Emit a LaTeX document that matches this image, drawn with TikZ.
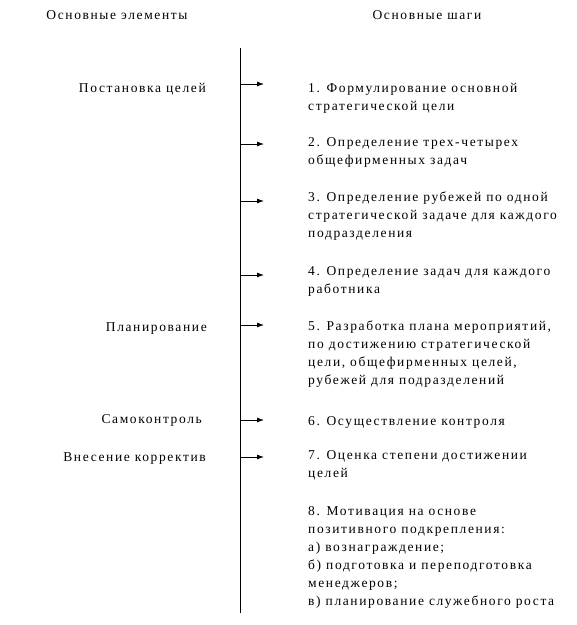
\documentclass[tikz,border=0pt]{standalone}
\usepackage{fontspec}
\setmainfont[LetterSpace=12]{Liberation Serif}
\usetikzlibrary{arrows.meta}

\begin{document}
\begin{tikzpicture}[x=1pt, y=-1pt, every node/.style={font=\fontsize{13.5}{18}\selectfont}]
  \tikzset{
    head/.style={anchor=base, inner sep=0pt},
    element/.style={anchor=base east, inner sep=0pt},
    stage/.style={anchor=north west, align=left, inner sep=0pt, execute at begin node=\strut},
    tick/.style={-{Latex[length=7pt,width=5pt]}, line width=0.8pt}
  }
  \useasboundingbox (0,0) rectangle (577,625);

  % column heads
  \node[head] (hElem) at (117,19) {Основные элементы};
  \node[head] (hStep) at (427,19) {Основные шаги};

  % axis
  \coordinate (axTop) at (240.5,48);
  \coordinate (axBot) at (240.5,613);
  \draw[line width=0.9pt] (axTop) -- (axBot);

  % elements on the left
  \node[element] (eGoal)  at (206,92)  {Постановка целей};
  \node[element] (ePlan)  at (207,331) {Планирование};
  \node[element] (eCtrl)  at (202,423) {Самоконтроль};
  \node[element] (eCorr)  at (206,461) {Внесение корректив};

  % steps on the right (top = first baseline - 12.6)
  \node[stage] (s1) at (308,83)  {1. Формулирование основной\\стратегической цели};
  \node[stage] (s2) at (308,137) {2. Определение трех-четырех\\общефирменных задач};
  \node[stage] (s3) at (308,192) {3. Определение рубежей по одной\\стратегической задаче для каждого\\подразделения};
  \node[stage] (s4) at (308,266) {4. Определение задач для каждого\\работника};
  \node[stage] (s5) at (308,321) {5. Разработка плана мероприятий,\\по достижению стратегической\\цели, общефирменных целей,\\рубежей для подразделений};
  \node[stage] (s6) at (308,413) {6. Осуществление контроля};
  \node[stage] (s7) at (308,450) {7. Оценка степени достижении\\целей};
  \node[stage] (s8) at (308,506) {8. Мотивация на основе\\позитивного подкрепления:\\а) вознаграждение;\\б) подготовка и переподготовка\\менеджеров;\\в) планирование служебного роста};

  % arrows off the axis
  \foreach \y [count=\i] in {84,144,201,275,325,420,457} {
    \coordinate (from\i) at (240.5,\y);
    \coordinate (to\i) at (264,\y);
    \draw[tick] (from\i) -- (to\i);
  }
\end{tikzpicture}
\end{document}
